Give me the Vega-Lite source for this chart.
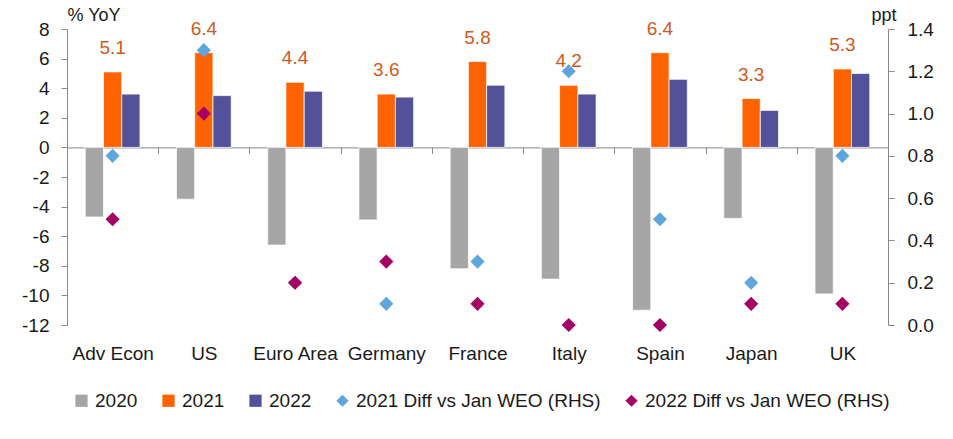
{
  "$schema": "https://vega.github.io/schema/vega-lite/v6.json",
  "width": 821,
  "height": 296,
  "autosize": {"type": "none"},
  "padding": {"left": 67, "top": 29, "right": 65, "bottom": 114},
  "config": {
    "font": "Liberation Sans",
    "view": {"stroke": null},
    "axis": {"grid": false, "labelFontSize": 19, "labelColor": "#1a1a1a", "titleFontSize": 18, "titleFontWeight": "normal", "titleColor": "#1a1a1a", "domainColor": "#888888", "tickColor": "#888888"},
    "legend": {"labelFontSize": 19, "labelColor": "#1a1a1a", "symbolSize": 150, "columnPadding": 21, "labelOffset": 4, "symbolStrokeWidth": 0, "labelLimit": 0}
  },
  "data": {
    "values": [
      {"c": "Adv Econ", "s": "2020", "v": -4.7},
      {"c": "US", "s": "2020", "v": -3.5},
      {"c": "Euro Area", "s": "2020", "v": -6.6},
      {"c": "Germany", "s": "2020", "v": -4.9},
      {"c": "France", "s": "2020", "v": -8.2},
      {"c": "Italy", "s": "2020", "v": -8.9},
      {"c": "Spain", "s": "2020", "v": -11.0},
      {"c": "Japan", "s": "2020", "v": -4.8},
      {"c": "UK", "s": "2020", "v": -9.9},
      {"c": "Adv Econ", "s": "2021", "v": 5.1},
      {"c": "US", "s": "2021", "v": 6.4},
      {"c": "Euro Area", "s": "2021", "v": 4.4},
      {"c": "Germany", "s": "2021", "v": 3.6},
      {"c": "France", "s": "2021", "v": 5.8},
      {"c": "Italy", "s": "2021", "v": 4.2},
      {"c": "Spain", "s": "2021", "v": 6.4},
      {"c": "Japan", "s": "2021", "v": 3.3},
      {"c": "UK", "s": "2021", "v": 5.3},
      {"c": "Adv Econ", "s": "2022", "v": 3.6},
      {"c": "US", "s": "2022", "v": 3.5},
      {"c": "Euro Area", "s": "2022", "v": 3.8},
      {"c": "Germany", "s": "2022", "v": 3.4},
      {"c": "France", "s": "2022", "v": 4.2},
      {"c": "Italy", "s": "2022", "v": 3.6},
      {"c": "Spain", "s": "2022", "v": 4.6},
      {"c": "Japan", "s": "2022", "v": 2.5},
      {"c": "UK", "s": "2022", "v": 5.0},
      {"c": "Adv Econ", "s": "2021 Diff vs Jan WEO (RHS)", "v": 0.8},
      {"c": "US", "s": "2021 Diff vs Jan WEO (RHS)", "v": 1.3},
      {"c": "Euro Area", "s": "2021 Diff vs Jan WEO (RHS)", "v": 0.2},
      {"c": "Germany", "s": "2021 Diff vs Jan WEO (RHS)", "v": 0.1},
      {"c": "France", "s": "2021 Diff vs Jan WEO (RHS)", "v": 0.3},
      {"c": "Italy", "s": "2021 Diff vs Jan WEO (RHS)", "v": 1.2},
      {"c": "Spain", "s": "2021 Diff vs Jan WEO (RHS)", "v": 0.5},
      {"c": "Japan", "s": "2021 Diff vs Jan WEO (RHS)", "v": 0.2},
      {"c": "UK", "s": "2021 Diff vs Jan WEO (RHS)", "v": 0.8},
      {"c": "Adv Econ", "s": "2022 Diff vs Jan WEO (RHS)", "v": 0.5},
      {"c": "US", "s": "2022 Diff vs Jan WEO (RHS)", "v": 1.0},
      {"c": "Euro Area", "s": "2022 Diff vs Jan WEO (RHS)", "v": 0.2},
      {"c": "Germany", "s": "2022 Diff vs Jan WEO (RHS)", "v": 0.3},
      {"c": "France", "s": "2022 Diff vs Jan WEO (RHS)", "v": 0.1},
      {"c": "Italy", "s": "2022 Diff vs Jan WEO (RHS)", "v": 0.0},
      {"c": "Spain", "s": "2022 Diff vs Jan WEO (RHS)", "v": 0.0},
      {"c": "Japan", "s": "2022 Diff vs Jan WEO (RHS)", "v": 0.1},
      {"c": "UK", "s": "2022 Diff vs Jan WEO (RHS)", "v": 0.1}
    ]
  },
  "encoding": {
    "x": {
      "field": "c",
      "type": "nominal",
      "sort": ["Adv Econ", "US", "Euro Area", "Germany", "France", "Italy", "Spain", "Japan", "UK"],
      "scale": {"paddingInner": 0, "paddingOuter": 0},
      "axis": {"title": null, "labelAngle": 0, "offset": -177.6, "tickBand": "extent", "tickSize": 6, "labelPadding": 206, "labelBaseline": "alphabetic"}
    }
  },
  "layer": [
    {
      "encoding": {
        "y": {
          "field": "v",
          "type": "quantitative",
          "scale": {"domain": [-12, 8], "nice": false, "zero": false},
          "axis": {"values": [-12, -10, -8, -6, -4, -2, 0, 2, 4, 6, 8], "labelExpr": "toString(datum.value)", "title": "% YoY", "titleAngle": 0, "titleAlign": "left", "titleBaseline": "alphabetic", "titleX": 0, "titleY": -9, "labelPadding": 12, "tickSize": 6}
        }
      },
      "layer": [
        {
          "transform": [{"filter": {"field": "s", "oneOf": ["2020", "2021", "2022"]}}],
          "mark": {"type": "bar", "stroke": "#ffffff", "strokeWidth": 0.75},
          "encoding": {
            "xOffset": {"field": "s", "sort": ["2020", "2021", "2022"], "scale": {"paddingInner": 0, "paddingOuter": 1.08}},
            "color": {
              "field": "s",
              "type": "nominal",
              "scale": {"domain": ["2020", "2021", "2022", "2021 Diff vs Jan WEO (RHS)", "2022 Diff vs Jan WEO (RHS)"], "range": ["#a6a6a6", "#ff6200", "#525199", "#5ea6dc", "#a50064"]},
              "legend": {"orient": "none", "legendX": 5, "legendY": 362, "direction": "horizontal", "title": null}
            }
          }
        },
        {
          "transform": [{"filter": {"field": "s", "equal": "2021"}}],
          "mark": {"type": "text", "baseline": "alphabetic", "dy": -18, "fontSize": 19, "color": "#cf5a1c"},
          "encoding": {
            "text": {"field": "v", "type": "quantitative", "format": ".1f"}
          }
        }
      ]
    },
    {
      "transform": [{"filter": {"field": "s", "oneOf": ["2021 Diff vs Jan WEO (RHS)", "2022 Diff vs Jan WEO (RHS)"]}}],
      "mark": {"type": "point", "filled": true, "opacity": 1, "size": 200},
      "encoding": {
        "y": {
          "field": "v",
          "type": "quantitative",
          "scale": {"domain": [0, 1.4], "nice": false},
          "axis": {"orient": "right", "values": [0, 0.2, 0.4, 0.6, 0.8, 1.0, 1.2, 1.4], "format": ".1f", "title": "ppt", "titleAngle": 0, "titleAlign": "right", "titleBaseline": "alphabetic", "titleX": 8, "titleY": -9, "labelPadding": 13, "tickSize": 6}
        },
        "color": {
          "field": "s",
          "type": "nominal",
          "scale": {"domain": ["2020", "2021", "2022", "2021 Diff vs Jan WEO (RHS)", "2022 Diff vs Jan WEO (RHS)"], "range": ["#a6a6a6", "#ff6200", "#525199", "#5ea6dc", "#a50064"]},
          "legend": {"orient": "none", "legendX": 5, "legendY": 362, "direction": "horizontal", "title": null}
        },
        "shape": {
          "field": "s",
          "type": "nominal",
          "scale": {"domain": ["2020", "2021", "2022", "2021 Diff vs Jan WEO (RHS)", "2022 Diff vs Jan WEO (RHS)"], "range": ["square", "square", "square", "diamond", "diamond"]},
          "legend": {"orient": "none", "legendX": 5, "legendY": 362, "direction": "horizontal", "title": null}
        }
      }
    }
  ],
  "resolve": {"scale": {"y": "independent"}}
}
